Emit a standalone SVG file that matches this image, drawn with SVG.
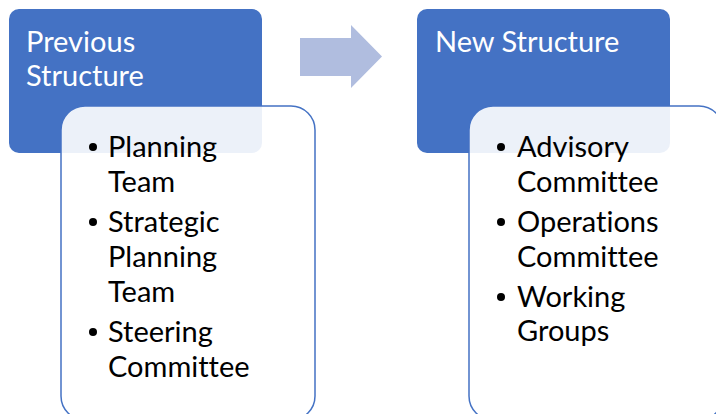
<svg xmlns="http://www.w3.org/2000/svg" width="716" height="414" viewBox="0 0 716 414">
<style>
.hdr{fill:#4472C4;}
.body{fill:#FFFFFF;fill-opacity:0.9;stroke:#4472C4;stroke-width:1.5;}
.ht,.bt{font-family:Lato,"Liberation Sans",sans-serif;font-size:29px;font-variant-ligatures:none;font-feature-settings:"liga" 0,"clig" 0,"dlig" 0;}
.ht{fill:#FFFFFF;}
.bt{fill:#000000;}
.arrow{fill:#B0BDDF;}
</style>
<rect width="716" height="414" fill="#FFFFFF"/>
<g id="prev-header">
<rect class="hdr" x="9" y="9" width="253" height="144" rx="10"/>
<text class="ht" x="26" y="52">Previous</text>
<text class="ht" x="26" y="86">Structure</text>
</g>
<g id="connectors">
<path class="arrow" d="M300,38 L351,38 L351,25 L382,56.5 L351,88 L351,76 L300,76 Z"/>
</g>
<g id="new-header">
<rect class="hdr" x="417" y="9" width="253" height="144" rx="10"/>
<text class="ht" x="435" y="52">New Structure</text>
</g>
<g id="prev-body">
<rect class="body" x="61" y="106" width="254" height="314" rx="24"/>
<circle cx="93" cy="147" r="4"/>
<text class="bt" x="108" y="157">Planning</text>
<text class="bt" x="108" y="192">Team</text>
<circle cx="93" cy="222" r="4"/>
<text class="bt" x="108" y="232">Strategic</text>
<text class="bt" x="108" y="267">Planning</text>
<text class="bt" x="108" y="302">Team</text>
<circle cx="93" cy="332" r="4"/>
<text class="bt" x="108" y="342">Steering</text>
<text class="bt" x="108" y="377">Committee</text>
</g>
<g id="new-body">
<rect class="body" x="469" y="106" width="254" height="314" rx="24"/>
<circle cx="501" cy="147" r="4"/>
<text class="bt" x="517" y="157">Advisory</text>
<text class="bt" x="517" y="192">Committee</text>
<circle cx="501" cy="222" r="4"/>
<text class="bt" x="517" y="232">Operations</text>
<text class="bt" x="517" y="267">Committee</text>
<circle cx="501" cy="297" r="4"/>
<text class="bt" x="517" y="307">Working</text>
<text class="bt" x="517" y="341">Groups</text>
</g>
</svg>
